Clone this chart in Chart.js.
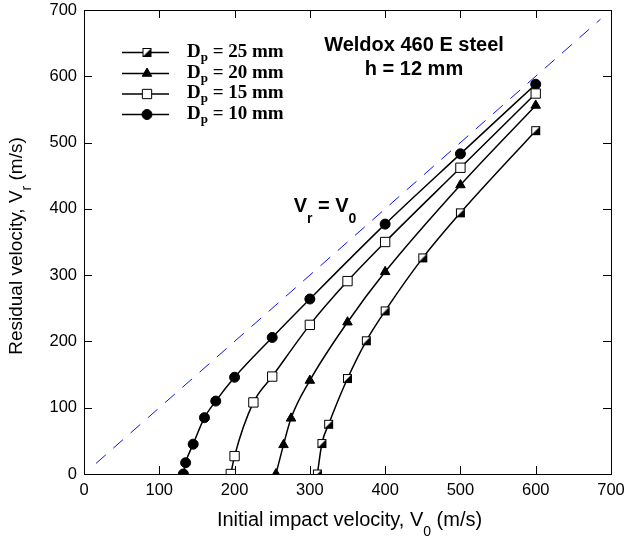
<!DOCTYPE html>
<html>
<head>
<meta charset="utf-8">
<script src="https://cdn.jsdelivr.net/npm/chart.js@4.4.1/dist/chart.umd.min.js"></script>
<style>
  html, body { margin: 0; padding: 0; background: #fff; }
  #wrap { width: 626px; height: 541px; }
</style>
</head>
<body>
<div id="wrap"><canvas id="chart" width="626" height="541"></canvas></div>
<script>
// tick labels
const xTicks = [0, 100, 200, 300, 400, 500, 600, 700];
const yTicks = [0, 100, 200, 300, 400, 500, 600, 700];

// series (initial velocity V0, residual velocity Vr)
const dp25V0 = [310, 316, 325, 350, 375, 400, 450, 500, 600];
const dp25Vr = [0, 46, 75, 144, 201, 246, 326, 394, 518];
const dp20V0 = [255, 265, 275, 300, 350, 400, 500, 600];
const dp20Vr = [0, 44, 84, 141, 229, 305, 436, 556];
const dp15V0 = [195, 200, 225, 250, 300, 350, 400, 500, 600];
const dp15Vr = [0, 27, 108, 147, 225, 291, 350, 462, 574];
const dp10V0 = [132, 135, 145, 160, 175, 200, 250, 300, 400, 500, 600];
const dp10Vr = [0, 17, 45, 85, 110, 146, 206, 264, 377, 483, 588];
const refV0 = [16, 686];
const refVr = [16, 686];

const seriesLabels = ['25', '20', '15', '10'];

function toPoints(xs, ys) {
    return xs.map(function(x, i) { return { x: x, y: ys[i] }; });
}

// square, lower-right half black
function halfSquare() {
    const c = document.createElement('canvas');
    c.width = 11; c.height = 11;
    const g = c.getContext('2d');
    g.fillStyle = '#fff';
    g.fillRect(1, 1, 9, 9);
    g.fillStyle = '#000';
    g.beginPath();
    g.moveTo(10, 1); g.lineTo(10, 10); g.lineTo(1, 10); g.closePath();
    g.fill();
    g.strokeStyle = '#000';
    g.lineWidth = 1;
    g.strokeRect(1.5, 1.5, 8, 8);
    return c;
}
const halfSq = halfSquare();

const markerStyles = [
    { pointStyle: halfSq, pointRadius: 5.5, pointBackgroundColor: '#fff' },
    { pointStyle: 'triangle', pointRadius: 5.5, pointBackgroundColor: '#000' },
    { pointStyle: 'rect', pointRadius: 6.6, pointBackgroundColor: '#fff' },
    { pointStyle: 'circle', pointRadius: 5, pointBackgroundColor: '#000' }
];

function seriesDataset(xs, ys, k) {
    return Object.assign({
        data: toPoints(xs, ys),
        borderColor: '#000',
        borderWidth: 1.5,
        pointBorderColor: '#000',
        pointBorderWidth: 1,
        pointHoverRadius: 0,
        cubicInterpolationMode: 'monotone',
        fill: false
    }, markerStyles[k]);
}

// text with subscripts: parts = [[text, isSub, offset], ...]
function drawRich(ctx, parts, x, y, font, subFont, align) {
    let total = 0;
    parts.forEach(function(p) {
        ctx.font = p[1] ? subFont : font;
        total += ctx.measureText(p[0]).width;
    });
    let cx = x;
    if (align === 'center') cx = x - total / 2;
    ctx.textBaseline = 'alphabetic';
    ctx.textAlign = 'left';
    parts.forEach(function(p) {
        ctx.font = p[1] ? subFont : font;
        ctx.fillText(p[0], cx, p[1] ? y + p[2] : y);
        cx += ctx.measureText(p[0]).width;
    });
}

const sans = '"Liberation Sans", Arial, sans-serif';
const serif = '"Liberation Serif", "Times New Roman", serif';

const decorations = {
    id: 'decorations',
    afterDraw: function(chart) {
        const ctx = chart.ctx;
        const a = chart.chartArea;
        const xs = chart.scales.x, ys = chart.scales.y;
        ctx.save();
        ctx.strokeStyle = '#000';
        ctx.lineWidth = 1;
        ctx.strokeRect(a.left + 0.5, a.top + 0.5, a.right - a.left, a.bottom - a.top);
        // inward tick marks on all four sides
        ctx.beginPath();
        xTicks.forEach(function(v) {
            const px = Math.round(xs.getPixelForValue(v)) + 0.5;
            ctx.moveTo(px, a.bottom); ctx.lineTo(px, a.bottom - 8);
            ctx.moveTo(px, a.top); ctx.lineTo(px, a.top + 8);
        });
        yTicks.forEach(function(v) {
            const py = Math.round(ys.getPixelForValue(v)) + 0.5;
            ctx.moveTo(a.left, py); ctx.lineTo(a.left + 8, py);
            ctx.moveTo(a.right, py); ctx.lineTo(a.right - 8, py);
        });
        ctx.stroke();

        ctx.fillStyle = '#000';
        // axis titles
        drawRich(ctx, [['Initial impact velocity, V', false], ['0', true, 10], [' (m/s)', false]],
            (a.left + a.right) / 2 + 2, 526, '20px ' + sans, '14px ' + sans, 'center');
        ctx.save();
        ctx.translate(22, 246);
        ctx.rotate(-Math.PI / 2);
        drawRich(ctx, [['Residual velocity, V', false], ['r', true, 9], [' (m/s)', false]],
            0, 0, '19px ' + sans, '14px ' + sans, 'center');
        ctx.restore();

        // annotations
        ctx.textAlign = 'center';
        ctx.font = 'bold 20px ' + sans;
        ctx.fillText('Weldox 460 E steel', 414, 51);
        ctx.fillText('h = 12 mm', 414, 75);
        drawRich(ctx, [['V', false], ['r', true, 11], [' = V', false], ['0', true, 11]],
            325, 212, 'bold 20px ' + sans, 'bold 14px ' + sans, 'center');

        // legend
        const rowY = [52.5, 73.5, 94, 114.5];
        chart.data.datasets.slice(0, 4).forEach(function(ds, i) {
            const y = rowY[i];
            ctx.strokeStyle = '#000';
            ctx.lineWidth = 1.5;
            ctx.beginPath();
            ctx.moveTo(122, y); ctx.lineTo(169, y);
            ctx.stroke();
            ctx.lineWidth = 1;
            ctx.fillStyle = ds.pointBackgroundColor;
            Chart.helpers.drawPoint(ctx, {
                pointStyle: ds.pointStyle, radius: ds.pointRadius, rotation: 0, borderWidth: 1
            }, 147, y);
            ctx.fillStyle = '#000';
            drawRich(ctx, [['D', false], ['p', true, 4], [' = ' + seriesLabels[i] + ' mm', false]],
                187, y + 4, 'bold 19px ' + serif, 'bold 13px ' + serif, 'left');
        });
        ctx.restore();
    }
};

const ctx = document.getElementById('chart').getContext('2d');
const chart = new Chart(ctx, {
    type: 'line',
    data: {
        datasets: [
            seriesDataset(dp25V0, dp25Vr, 0),
            seriesDataset(dp20V0, dp20Vr, 1),
            seriesDataset(dp15V0, dp15Vr, 2),
            seriesDataset(dp10V0, dp10Vr, 3),
            {
                data: toPoints(refV0, refVr),
                borderColor: '#1010f0',
                borderWidth: 1,
                borderDash: [13, 10],
                pointRadius: 0,
                fill: false
            }
        ]
    },
    options: {
        responsive: false,
        animation: false,
        devicePixelRatio: 1,
        layout: { padding: { left: 0, right: 15, top: 10, bottom: 0 } },
        plugins: { legend: { display: false }, tooltip: { enabled: false } },
        scales: {
            x: {
                type: 'linear', min: 0, max: 700,
                afterBuildTicks: function(s) { s.ticks = xTicks.map(function(v) { return { value: v }; }); },
                afterFit: function(s) { s.height = 67; s.paddingLeft = 0; s.paddingRight = 0; },
                grid: { display: false, drawTicks: false },
                border: { display: false },
                ticks: { color: '#000', padding: 7, font: { family: sans, size: 16.5 } }
            },
            y: {
                type: 'linear', min: 0, max: 700,
                afterBuildTicks: function(s) { s.ticks = yTicks.map(function(v) { return { value: v }; }); },
                afterFit: function(s) { s.width = 84; s.paddingTop = 0; s.paddingBottom = 0; },
                grid: { display: false, drawTicks: false },
                border: { display: false },
                ticks: { color: '#000', padding: 7, font: { family: sans, size: 16.5 } }
            }
        }
    },
    plugins: [decorations]
});
</script>
</body>
</html>
